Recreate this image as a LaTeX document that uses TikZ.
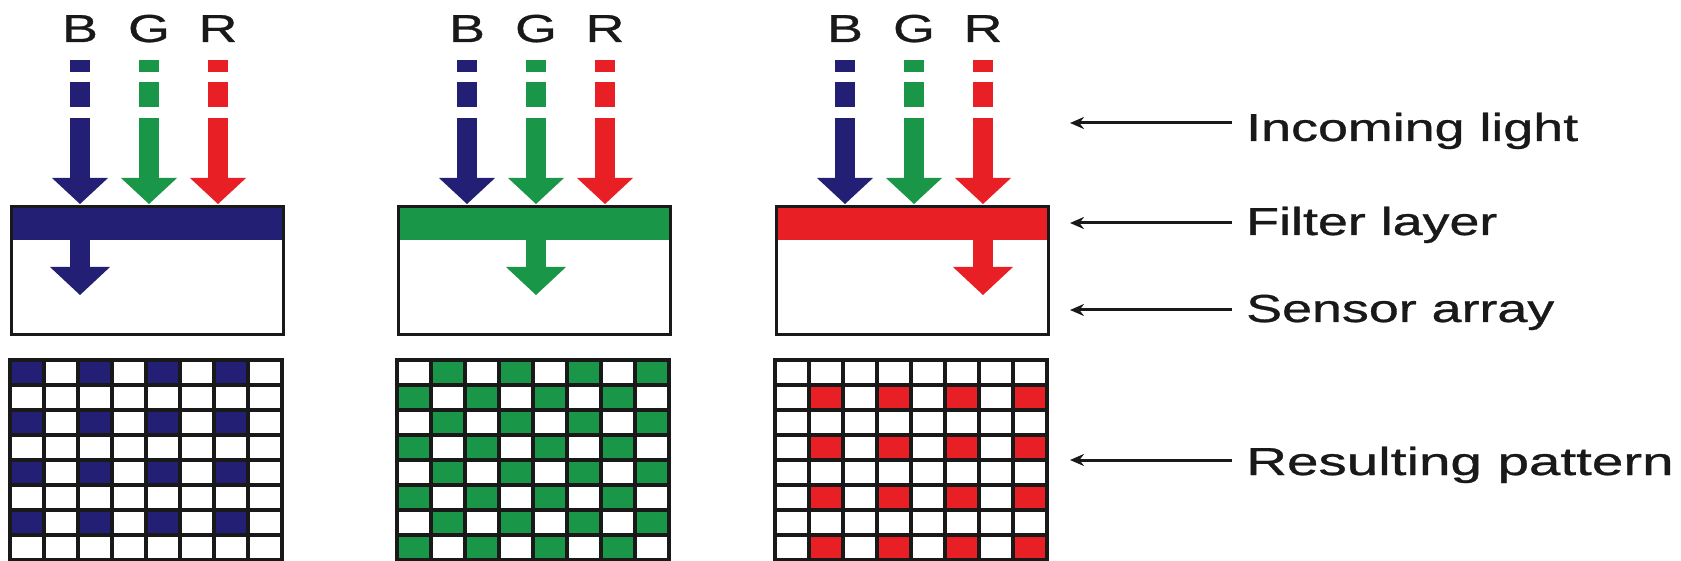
\documentclass[tikz,border=0pt]{standalone}
\usepackage{fontspec}
\setmainfont{Liberation Sans}
\newfontfamily\lblfont{Liberation Sans}[FakeBold=0.7]
\usetikzlibrary{arrows.meta}
\definecolor{cB}{RGB}{35,31,117}
\definecolor{cG}{RGB}{26,150,72}
\definecolor{cR}{RGB}{232,32,38}
\definecolor{ink}{RGB}{25,25,25}
\newcommand\wtxt[1]{\scalebox{1.38}[1]{#1}}
\newcommand\wwtxt[1]{\scalebox{1.45}[1]{#1}}
\begin{document}
\begin{tikzpicture}[x=1pt,y=-1pt,
  lbl/.style={font=\lblfont\fontsize{39}{44}\selectfont, inner sep=0pt, text=ink},
  ptr/.style={line width=3pt, draw=ink, -{Stealth[length=14pt,width=12pt]}},
  outline/.style={draw=ink, line width=3pt},
  gridline/.style={line width=3.6pt, draw=ink, line cap=rect}]
\useasboundingbox (0,0) rectangle (1681,561);
\fill[white] (0,0) rectangle (1681,561);

\foreach \L/\fc/\k/\cond in {10/cB/0/{(1-mod(\r,2))*(1-mod(\c,2))},
                             397/cG/1/{mod(\r+\c,2)},
                             775/cR/2/{mod(\r,2)*mod(\c,2)}}{
  % incoming light arrows and labels
  \foreach \dx/\col/\t in {70/cB/B, 139/cG/G, 208/cR/R}{
    \node[lbl, anchor=base] (t\k\t) at (\L+\dx,42) {\wtxt{\t}};
    \fill[\col] (\L+\dx-10,60) rectangle (\L+\dx+10,72);
    \fill[\col] (\L+\dx-10,82) rectangle (\L+\dx+10,107);
    \fill[\col] (\L+\dx-10,118) rectangle (\L+\dx+10,179);
    \fill[\col] (\L+\dx-28,178) -- (\L+\dx+28,178) -- (\L+\dx,204) -- cycle;
  }
  % filter layer + sensor array
  \fill[\fc] (\L,205) rectangle (\L+272,240);
  \node[outline, minimum width=272pt, minimum height=128pt, anchor=north west, inner sep=0pt] (box\k) at (\L,205) {};
  \pgfmathsetmacro\ax{\L+70+69*\k}
  \fill[\fc] (\ax-10,238) rectangle (\ax+10,268);
  \fill[\fc] (\ax-30,267) -- (\ax+30,267) -- (\ax,295) -- cycle;
  % resulting pattern
  \foreach \r in {0,...,7}{
    \foreach \c in {0,...,7}{
      \pgfmathtruncatemacro\on{\cond}
      \ifnum\on=1
        \fill[\fc] (\L+34*\c,360+25*\r) rectangle ++(34,25);
      \fi
    }
  }
  \foreach \i in {0,...,8}{
    \draw[gridline] (\L+34*\i,360) -- (\L+34*\i,560);
    \draw[gridline] (\L,360+25*\i) -- (\L+272,360+25*\i);
  }
}

% legend
\node[lbl, anchor=base west] (lIn)  at (1246,141) {\wtxt{Incoming light}};
\node[lbl, anchor=base west] (lFil) at (1246,235) {\wtxt{Filter layer}};
\node[lbl, anchor=base west] (lSen) at (1246,322) {\wtxt{Sensor array}};
\node[lbl, anchor=base west] (lRes) at (1246,475) {\wwtxt{Resulting pattern}};
\coordinate (sIn) at (1232,123);  \coordinate (eIn) at (1070,123);
\coordinate (sFil) at (1232,223); \coordinate (eFil) at (1070,223);
\coordinate (sSen) at (1232,310); \coordinate (eSen) at (1070,310);
\coordinate (sRes) at (1232,460); \coordinate (eRes) at (1070,460);
\draw[ptr] (sIn) -- (eIn);
\draw[ptr] (sFil) -- (eFil);
\draw[ptr] (sSen) -- (eSen);
\draw[ptr] (sRes) -- (eRes);
\end{tikzpicture}
\end{document}
